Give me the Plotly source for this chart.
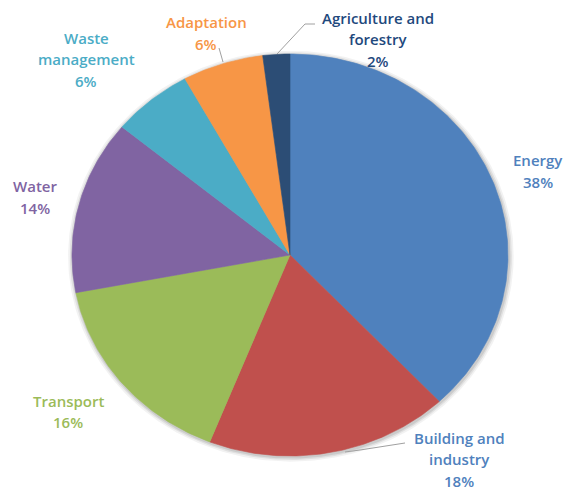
import numpy as np
import plotly.graph_objects as go

# Climate finance by sector (share of total, %), clockwise from 12 o'clock
sectors = ["Energy", "Building and industry", "Transport", "Water",
           "Waste management", "Adaptation", "Agriculture and forestry"]
shares = [38, 18, 16, 14, 6, 6, 2]
label_lines = [["Energy"], ["Building and", "industry"], ["Transport"], ["Water"],
               ["Waste", "management"], ["Adaptation"], ["Agriculture and", "forestry"]]

slice_colors = ["#4F81BD", "#C0504D", "#9BBB59", "#8064A2", "#4BACC6", "#F79646", "#2C4D75"]
text_colors = ["#4F81BD", "#4F81BD", "#9BBB59", "#8064A2", "#4BACC6", "#F79646", "#1F497D"]

W, H = 565, 491
CX, CY, RX, RY = 290, 255, 218, 201  # pie centre and radii in pixels
LINE_H = 21.5                         # label line spacing in pixels


def px(x, y):
    """Pixel position -> data coordinates (unit circle = pie outline)."""
    return (x - CX) / RX, (CY - y) / RY


fig = go.Figure()

# soft drop shadow under the pie
t = np.linspace(0, 2 * np.pi, 400)
for k, op in [(1.022, 0.05), (1.014, 0.07), (1.007, 0.09)]:
    fig.add_trace(go.Scatter(x=k * np.cos(t) + 0.004, y=k * np.sin(t) - 0.006,
                             fill="toself", fillcolor=f"rgba(0,0,0,{op})",
                             line=dict(width=0), mode="lines", hoverinfo="skip",
                             showlegend=False))

# wedges built from cumulative shares
total = sum(shares)
cum = 0.0
for name, val, col in zip(sectors, shares, slice_colors):
    a0 = np.pi / 2 - 2 * np.pi * cum / total
    a1 = np.pi / 2 - 2 * np.pi * (cum + val) / total
    n = max(int(abs(a1 - a0) * 80), 8)
    th = np.linspace(a0, a1, n)
    xs = np.concatenate([[0], np.cos(th), [0]])
    ys = np.concatenate([[0], np.sin(th), [0]])
    fig.add_trace(go.Scatter(x=xs, y=ys, fill="toself", fillcolor=col,
                             line=dict(color=col, width=0.6), mode="lines",
                             name=name, hoveron="fills",
                             hovertemplate=f"{name}: {val}%<extra></extra>",
                             showlegend=False))
    cum += val

# label block centres (pixels)
label_pos = {
    "Energy": (538, 171),
    "Building and industry": (459, 459),
    "Transport": (68, 411.5),
    "Water": (35, 197),
    "Waste management": (86, 59),
    "Adaptation": (206, 33),
    "Agriculture and forestry": (378, 39),
}

for name, lines, val, tc in zip(sectors, label_lines, shares, text_colors):
    cx, cy = label_pos[name]
    rows = lines + [f"{val}%"]
    for i, row in enumerate(rows):
        y = cy + (i - (len(rows) - 1) / 2) * LINE_H
        xd, yd = px(cx, y)
        fig.add_annotation(x=xd, y=yd, xref="x", yref="y", text=row,
                           showarrow=False, align="center", borderpad=0,
                           font=dict(family="Open Sans", size=15, color=tc,
                                     weight=600))

# leader lines
leaders = [
    [(305, 24), (315, 24)],
    [(305, 24), (277, 54)],
    [(219, 48), (223, 62)],
    [(405, 443), (360, 450)],
    [(360, 450), (345, 452)],
]
for (x0, y0), (x1, y1) in leaders:
    a, b = px(x0, y0)
    c, d = px(x1, y1)
    fig.add_shape(type="line", x0=a, y0=b, x1=c, y1=d, xref="x", yref="y",
                  line=dict(color="#A0A0A0", width=1))

fig.update_layout(
    width=W, height=H,
    margin=dict(l=0, r=0, t=0, b=0),
    paper_bgcolor="white", plot_bgcolor="white",
    xaxis=dict(range=[(0 - CX) / RX, (W - CX) / RX], visible=False, fixedrange=True),
    yaxis=dict(range=[(CY - H) / RY, CY / RY], visible=False, fixedrange=True),
    showlegend=False,
)

fig.write_html("out.html")
